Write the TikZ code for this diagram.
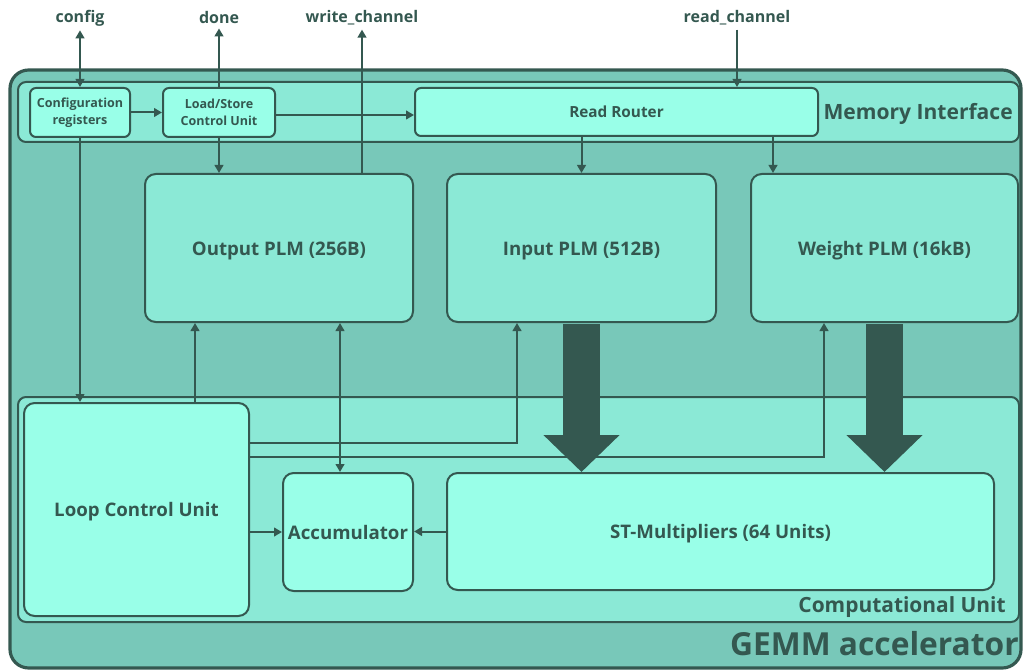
\documentclass[tikz,border=0pt]{standalone}
\usepackage{fontspec}
\setmainfont{Open Sans}
\usetikzlibrary{arrows.meta}
\definecolor{gbg}{RGB}{120,200,185}
\definecolor{gmid}{RGB}{139,233,214}
\definecolor{glight}{RGB}{153,255,232}
\definecolor{gink}{RGB}{52,88,80}
\begin{document}
\begin{tikzpicture}[x=0.75pt,y=-0.75pt,
  font=\bfseries, text=gink,
  frame/.style={draw=gink, line width=1.5pt, inner sep=0pt, align=center},
  smallbox/.style={frame, fill=glight, rounded corners=4.5pt, font=\fontsize{9.4}{12.5}\bfseries},
  lightbox/.style={frame, fill=glight, rounded corners=8pt, font=\fontsize{14}{17}\bfseries, text height=11pt, text depth=0pt},
  plmbox/.style={frame, fill=gmid, rounded corners=8pt, font=\fontsize{14}{17}\bfseries, text height=11pt, text depth=0pt},
  group/.style={frame, fill=gmid, rounded corners=6pt},
  io/.style={font=\fontsize{12}{14}\bfseries, inner sep=1pt},
  tag/.style={inner sep=0pt},
  link/.style={draw=gink, line width=1.5pt, -{Triangle[length=6pt,width=6.5pt]}},
  dlink/.style={draw=gink, line width=1.5pt, {Triangle[length=6pt,width=6.5pt]}-{Triangle[length=6pt,width=6.5pt]}},
  biglink/.style={draw=gink, line width=27.75pt, -{Triangle[length=27.75pt,width=55.5pt]}},
]
\useasboundingbox (0,0) rectangle (1024,670);

% outer accelerator frame
\node[frame, line width=2.4pt, fill=gbg, rounded corners=14pt,
      minimum width=758.25pt, minimum height=448.5pt] (gemm) at (515.5,369) {};
\node[tag, anchor=base east, font=\fontsize{23.8}{28}\bfseries] (gemmlabel) at (1019,655) {GEMM accelerator};

% memory interface group
\node[group, minimum width=750.75pt, minimum height=45pt] (memif) at (518.5,112) {};
\node[tag, anchor=east, font=\fontsize{15.8}{19}\bfseries] (memiflabel) at (1013,114) {Memory Interface};

% computational unit group
\node[group, minimum width=750.75pt, minimum height=168.75pt] (comp) at (518.5,509.5) {};
\node[tag, anchor=east, font=\fontsize{15.7}{19}\bfseries] (complabel) at (1006,607) {Computational Unit};

% memory interface blocks
\node[smallbox, minimum width=75pt, minimum height=36.75pt] (cfg) at (80,112.5) {Configuration\\registers};
\node[smallbox, minimum width=84pt, minimum height=36.75pt] (lsu) at (219,112.5) {Load/Store\\Control Unit};
\node[smallbox, minimum width=302.25pt, minimum height=36pt, font=\fontsize{11.5}{14}\bfseries] (rr) at (616.5,112) {Read Router};

% private local memories
\node[plmbox, minimum width=201pt, minimum height=111pt] (outplm) at (279,248) {Output PLM (256B)};
\node[plmbox, minimum width=201.75pt, minimum height=111pt] (inplm) at (581.5,248) {Input PLM (512B)};
\node[plmbox, minimum width=200.25pt, minimum height=111pt] (wplm) at (884.5,248) {Weight PLM (16kB)};

% compute blocks
\node[lightbox, minimum width=168.75pt, minimum height=159.75pt] (lcu) at (136.5,509.5) {Loop Control Unit};
\node[lightbox, minimum width=97.5pt, minimum height=88.5pt] (acc) at (348,532) {Accumulator};
\node[lightbox, minimum width=410.25pt, minimum height=87.75pt] (stm) at (720.5,531.5) {ST-Multipliers (64 Units)};

% external interface labels
\node[io] (cfgio) at (80,18) {config};
\node[io] (doneio) at (219,18) {done};
\node[io] (wch) at (362,18) {write\_channel};
\node[io] (rch) at (737,18) {read\_channel};

% routing columns and rows
\coordinate (xrw) at (773,0);
\coordinate (xlo) at (195,0);
\coordinate (xacc) at (340,0);
\coordinate (xin) at (517,0);
\coordinate (xw) at (824,0);
\coordinate (ylsu) at (0,115);
\coordinate (yin) at (0,443);
\coordinate (yw) at (0,457);

% external connections
\draw[dlink] ([yshift=-2pt]cfgio.south) -- (cfg.north);
\draw[link] (lsu.north) -- ([yshift=-2pt]doneio.south);
\draw[link] (outplm.north -| wch) -- ([yshift=-2pt]wch.south);
\draw[link] ([yshift=-2pt]rch.south) -- (rch.south |- rr.north);

% memory interface internals
\draw[link] (cfg.east) -- (lsu.west);
\draw[link] (lsu.east |- ylsu) -- (rr.west |- ylsu);
\draw[link] (lsu.south) -- (lsu.south |- outplm.north);
\draw[link] (rr.south -| inplm.north) -- (inplm.north);
\draw[link] (rr.south -| xrw) -- (wplm.north -| xrw);
\draw[link] (cfg.south) -- (cfg.south |- lcu.north);

% loop control and accumulator paths
\draw[link] (lcu.north -| xlo) -- (outplm.south -| xlo);
\draw[dlink] (outplm.south -| xacc) -- (acc.north -| xacc);
\draw[link] (lcu.east |- yin) -| (inplm.south -| xin);
\draw[link] (lcu.east |- yw) -| (wplm.south -| xw);
\draw[link] (lcu.east |- acc.west) -- (acc.west);
\draw[link] (stm.west) -- (stm.west -| acc.east);

% wide data paths into the multipliers
\draw[biglink] ([yshift=-0.75pt]inplm.south) -- (inplm.south |- stm.north);
\draw[biglink] ([yshift=-0.75pt]wplm.south) -- (wplm.south |- stm.north);
\end{tikzpicture}
\end{document}
